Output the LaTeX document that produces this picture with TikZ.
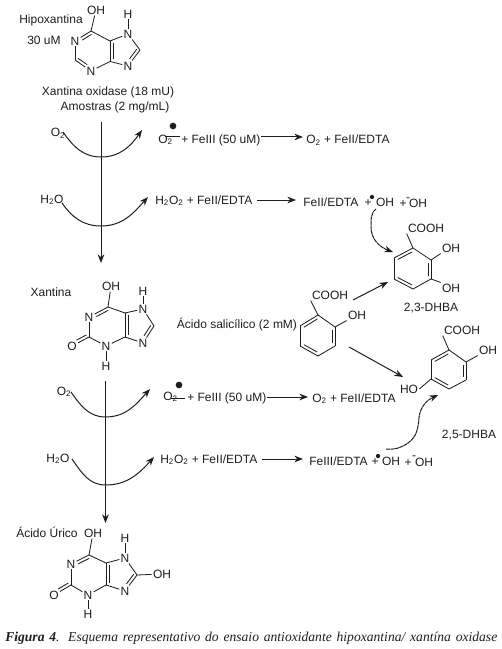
\documentclass[tikz,border=0pt]{standalone}
\usepackage{fontspec}
\setmainfont{Liberation Sans}
\newfontfamily\capfont{Liberation Serif}
\usetikzlibrary{arrows.meta,calc}
\definecolor{ink}{HTML}{1E1E1E}
\tikzset{
  atomlabel/.style={inner sep=0.8pt,font=\fontsize{9}{11}\selectfont,text=ink},
  txt/.style={anchor=base west,inner sep=0pt,font=\fontsize{9}{11}\selectfont,text=ink},
  txtc/.style={anchor=base,inner sep=0pt,font=\fontsize{9}{11}\selectfont,text=ink},
  bond/.style={draw=ink,line width=0.62pt},
  flow/.style={draw=ink,line width=0.75pt,-{Stealth[length=6.5pt,width=5pt]}},
  radical/.style={circle,fill=ink,inner sep=0pt,minimum size=5pt},
}
\newcommand{\dbond}[4]{\draw[bond,shorten <=#3,shorten >=#4] ($(#1)!2.3pt!-90:(#2)$) -- ($(#2)!2.3pt!90:(#1)$);}
\newcommand{\atm}[3]{\node[atomlabel] (#1) at (#2) {#3};}
\newcommand{\vtx}[2]{\coordinate (#1) at (#2);}
\newcommand{\bonds}[1]{\foreach \pa/\pb in {#1} \draw[bond] (\pa) -- (\pb);}
\begin{document}
\begin{tikzpicture}[x=0.75pt,y=-0.75pt]
\useasboundingbox (0,0) rectangle (502,649);
\fill[white] (0,0) rectangle (502,649);

% Hipoxantina
\node[txtc] (l1) at (51,24) {Hipoxantina};
\node[txtc] (l2) at (44,45) {30 uM};
\atm{aOH}{96,10}{OH}\atm{aH}{128,14}{H}\atm{aN1}{75,41}{N}\atm{aN3}{91,71}{N}\atm{aN7}{128,34}{N}\atm{aN9}{128,66}{N}
\vtx{aC6}{91,31}\vtx{aC2}{75,60}\vtx{aC4}{110,61.5}\vtx{aC5}{110,41}\vtx{aC8}{140,50}
\bonds{aC6/aOH,aN1/aC6,aC2/aN1,aC2/aN3,aN3/aC4,aC4/aC5,aC5/aC6,aC5/aN7,aN7/aC8,aC8/aN9,aN9/aC4,aN7/aH}
\dbond{aN1}{aC6}{5pt}{1pt}\dbond{aN3}{aC2}{5pt}{1pt}\dbond{aC4}{aC5}{1.5pt}{1.5pt}\dbond{aC8}{aN9}{1pt}{5pt}

\node[txtc] (l3) at (108,96) {Xantina oxidase (18 mU)};
\node[txtc] (l4) at (115,111) {Amostras (2 mg/mL)};

% first reaction column
\coordinate (m1a) at (101,122);\coordinate (m1b) at (101,263);
\draw[flow] (m1a) -- (m1b);
\node[txtc] (o2a) at (58,137) {O\textsubscript{2}};
\coordinate (o2as) at (63,132);\coordinate (o2am) at (101,157);\coordinate (o2ae) at (142,130);
\draw[flow] (o2as) to[out=-55,in=180] (o2am) to[out=0,in=235] (o2ae);
\node[txtc] (h2a) at (52,203) {H\textsubscript{2}O};
\coordinate (h2as) at (62,203);\coordinate (h2am) at (101,226);\coordinate (h2ae) at (148,197);
\draw[flow] (h2as) to[out=-55,in=180] (h2am) to[out=0,in=228] (h2ae);

\node[txt] (s1) at (158,143) {O\textsubscript{2}};
\coordinate (s1l) at (165,137);\coordinate (s1r) at (180,137);
\draw[bond,line width=0.75pt] (s1l) -- (s1r);
\node[radical] (s1d) at (173,126) {};
\node[txt] (s1f) at (181,143) {+ FeIII (50 uM)};
\coordinate (r1a) at (261,137);\coordinate (r1b) at (303,137);
\draw[flow] (r1a) -- (r1b);
\node[txt] (s1p) at (306,144) {O\textsubscript{2} + FeII/EDTA};

\node[txt] (s2) at (155,204) {H\textsubscript{2}O\textsubscript{2} + FeII/EDTA};
\coordinate (r2a) at (257,200);\coordinate (r2b) at (296,200);
\draw[flow] (r2a) -- (r2b);
\node[txt] (s2p) at (303,206) {FeII/EDTA};
\node[txtc] (s2q) at (368,206) {+};
\node[radical,minimum size=3.2pt] (s2d) at (372,197) {};
\node[txtc] (s2o) at (385,206) {OH};
\node[txtc] (s2r) at (403,207) {+};
\node[txtc] (s2m) at (408,201) {-};
\node[txtc] (s2s) at (418,207) {OH};

\coordinate (c1a) at (376,209);\coordinate (c1b) at (371,227);\coordinate (c1c) at (393,252);
\draw[flow,dash pattern=on 3pt off 0.4pt] (c1a) to[out=220,in=90] (c1b) to[out=-90,in=160] (c1c);

% 2,3-DHBA
\atm{bCOOH}{426,228}{COOH}\atm{bOH1}{451,248}{OH}\atm{bOH2}{451,288}{OH}
\vtx{bT}{413,248}\vtx{bUR}{431,260}\vtx{bLR}{431,279}\vtx{bB}{413,289}\vtx{bLL}{394,279}\vtx{bUL}{394,258}
\bonds{bT/bUR,bUR/bLR,bLR/bB,bB/bLL,bLL/bUL,bUL/bT,bUR/bOH1.south west,bLR/bOH2.north west}
\draw[bond] (bT) -- (bCOOH.south west);
\dbond{bUL}{bT}{2pt}{2pt}\dbond{bUR}{bLR}{2pt}{2pt}\dbond{bB}{bLL}{2pt}{2pt}
\node[txtc] (bN) at (431,311) {2,3-DHBA};

% Xantina
\node[txtc] (l5) at (51,296) {Xantina};
\atm{cOH}{111,286}{OH}\atm{cHa}{143,291}{H}\atm{cN1}{89,317}{N}\atm{cN3}{106,346}{N}\atm{cN7}{143,309}{N}\atm{cN9}{143,343}{N}\atm{cO}{72,346}{O}\atm{cHb}{106,366}{H}
\vtx{cC6}{108,307}\vtx{cC2}{89,337}\vtx{cC4}{125,337}\vtx{cC5}{125,313}\vtx{cC8}{154,326}
\bonds{cC6/cOH,cN1/cC6,cC2/cN1,cC2/cN3,cN3/cC4,cC4/cC5,cC5/cC6,cC5/cN7,cN7/cC8,cC8/cN9,cN9/cC4,cN7/cHa,cC2/cO,cN3/cHb}
\dbond{cN1}{cC6}{5pt}{1pt}\dbond{cC4}{cC5}{1.5pt}{1.5pt}\dbond{cC8}{cN9}{1pt}{5pt}\dbond{cC2}{cO}{1pt}{5pt}

\node[txtc] (l6) at (237,328) {Ácido salicílico (2 mM)};

% salicylic
\atm{dCOOH}{330,295}{COOH}\atm{dOH}{357,315}{OH}
\vtx{dT}{318,315}\vtx{dUR}{335,327}\vtx{dLR}{335,346}\vtx{dB}{318,356}\vtx{dLL}{300,346}\vtx{dUL}{300,326}
\bonds{dT/dUR,dUR/dLR,dLR/dB,dB/dLL,dLL/dUL,dUL/dT,dUR/dOH.south west}
\draw[bond] (dT) -- (dCOOH.south west);
\dbond{dUL}{dT}{2pt}{2pt}\dbond{dUR}{dLR}{2pt}{2pt}\dbond{dB}{dLL}{2pt}{2pt}
\coordinate (d1a) at (353,300);\coordinate (d1b) at (388,282);
\coordinate (d2a) at (349,347);\coordinate (d2b) at (403,377);
\draw[flow] (d1a) -- (d1b);
\draw[flow] (d2a) -- (d2b);

% 2,5-DHBA
\atm{eCOOH}{462,330}{COOH}\atm{eOH}{488,350}{OH}\atm{eHO}{409,389}{HO}
\vtx{eT}{449,350}\vtx{eUR}{466,362}\vtx{eLR}{466,380}\vtx{eB}{449,389}\vtx{eLL}{431,379}\vtx{eUL}{431,360}
\bonds{eT/eUR,eUR/eLR,eLR/eB,eB/eLL,eLL/eUL,eUL/eT,eUR/eOH.south west,eLL/eHO.east}
\draw[bond] (eT) -- (eCOOH.south west);
\dbond{eUL}{eT}{2pt}{2pt}\dbond{eUR}{eLR}{2pt}{2pt}\dbond{eB}{eLL}{2pt}{2pt}
\node[txtc] (eN) at (469,438) {2,5-DHBA};

% second reaction column
\coordinate (m2a) at (105.5,381);\coordinate (m2b) at (105.5,523);
\draw[flow] (m2a) -- (m2b);
\node[txtc] (o2b) at (64,395) {O\textsubscript{2}};
\coordinate (o2bs) at (71,392);\coordinate (o2bm) at (105.5,417);\coordinate (o2be) at (150,389);
\draw[flow] (o2bs) to[out=-55,in=180] (o2bm) to[out=0,in=228] (o2be);
\node[txtc] (h2b) at (58,462) {H\textsubscript{2}O};
\coordinate (h2bs) at (72,459);\coordinate (h2bm) at (105.5,485);\coordinate (h2be) at (154,457);
\draw[flow] (h2bs) to[out=-55,in=180] (h2bm) to[out=0,in=228] (h2be);

\node[txt] (t1) at (163,400) {O\textsubscript{2}};
\coordinate (t1l) at (171,398);\coordinate (t1r) at (185,398);
\draw[bond,line width=0.75pt] (t1l) -- (t1r);
\node[radical] (t1d) at (179,385) {};
\node[txt] (t1f) at (187,401) {+ FeIII (50 uM)};
\coordinate (r3a) at (267,397);\coordinate (r3b) at (308,397);
\draw[flow] (r3a) -- (r3b);
\node[txt] (t1p) at (312,402) {O\textsubscript{2} + FeII/EDTA};

\node[txt] (t2) at (160,463) {H\textsubscript{2}O\textsubscript{2} + FeII/EDTA};
\coordinate (r4a) at (262,459);\coordinate (r4b) at (303,459);
\draw[flow] (r4a) -- (r4b);
\node[txt] (t2p) at (309,465) {FeIII/EDTA};
\node[txtc] (t2q) at (375,465) {+};
\node[radical,minimum size=3.2pt] (t2d) at (378,456) {};
\node[txtc] (t2o) at (391,465) {OH};
\node[txtc] (t2r) at (408,466) {+};
\node[txtc] (t2m) at (414,459) {-};
\node[txtc] (t2s) at (424,466) {OH};

\coordinate (w1) at (386,449);\coordinate (w2) at (408,443);\coordinate (w3) at (419,418);\coordinate (w4) at (438,395);
\draw[flow,dash pattern=on 3pt off 0.4pt] (w1) to[out=-5,in=215] (w2) to[out=35,in=265] (w3) to[out=85,in=205] (w4);

% Acido urico
\node[txtc] (l7) at (47,537) {Ácido Úrico};
\atm{fOH}{93,533}{OH}\atm{fHa}{125,538}{H}\atm{fN1}{71,564}{N}\atm{fN3}{88,595}{N}\atm{fN7}{125,558}{N}\atm{fN9}{125,591}{N}\atm{fO}{54,595}{O}\atm{fHb}{88,614}{H}\atm{fOHb}{162,574}{OH}
\vtx{fC6}{89,555}\vtx{fC2}{71,585}\vtx{fC4}{106,585}\vtx{fC5}{106,563}\vtx{fC8}{137,575}
\bonds{fC6/fOH,fN1/fC6,fC2/fN1,fC2/fN3,fN3/fC4,fC4/fC5,fC5/fC6,fC5/fN7,fN7/fC8,fC8/fN9,fN9/fC4,fN7/fHa,fC2/fO,fN3/fHb,fC8/fOHb}
\dbond{fN1}{fC6}{5pt}{1pt}\dbond{fC4}{fC5}{1.5pt}{1.5pt}\dbond{fC8}{fN9}{1pt}{5pt}\dbond{fC2}{fO}{1pt}{5pt}

% caption
\node[anchor=base west,inner sep=0pt,text=ink] (cap) at (5,641) {\makebox[369pt][s]{\capfont\fontsize{10.2}{12}\selectfont\itshape\textbf{Figura 4}. Esquema representativo do ensaio antioxidante hipoxantina/ xantína oxidase}};
\end{tikzpicture}
\end{document}
